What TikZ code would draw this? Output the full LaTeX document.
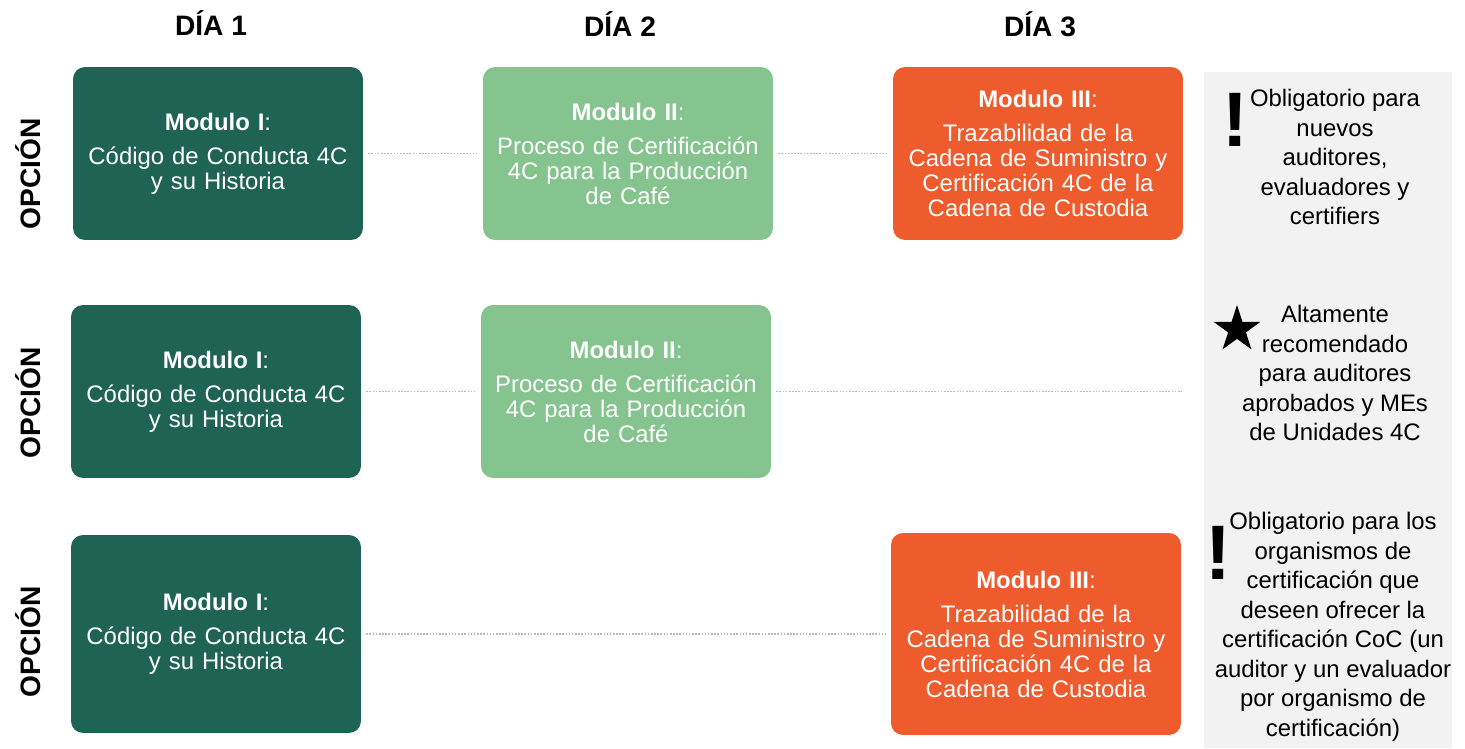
\documentclass[tikz,border=0pt]{standalone}
\usepackage{fontspec}
\setmainfont{Liberation Sans}
\usetikzlibrary{shapes.geometric}

\definecolor{verdeoscuro}{HTML}{1F6354}
\definecolor{verdeclaro}{HTML}{86C48F}
\definecolor{naranja}{HTML}{EE5B2D}
\definecolor{grisfondo}{HTML}{F2F2F2}
\definecolor{grispunto}{HTML}{B8B8B8}

\newcommand{\titulo}[1]{\textbf{#1}:\\[5.2pt]}

\tikzset{
  modulo/.style={rounded corners=0.24cm, minimum width=5.8cm, minimum height=3.46cm,
    text width=5.7cm, align=center, text=white, inner sep=0pt,
    font=\fontsize{13.6}{14.2}\selectfont},
  dia/.style={font=\fontsize{16}{16}\selectfont\bfseries},
  opcion/.style={rotate=90, font=\fontsize{16}{16}\selectfont\bfseries},
  punteado/.style={draw=grispunto, line width=0.9pt, dash pattern=on 0.9pt off 0.9pt,
    shorten <=0.1cm, shorten >=0.1cm},
  nota/.style={align=center, inner sep=0pt, font=\fontsize{13.6}{16.8}\selectfont},
  aviso/.style={inner sep=0pt, font=\fontsize{44}{44}\selectfont}
}

\begin{document}
\begin{tikzpicture}[x=0.02cm, y=-0.02cm]
  \useasboundingbox (0, 0) rectangle (1465, 748);

  % fondo de las notas
  \fill[grisfondo] (1204, 72) rectangle (1452, 748);

  % dias
  \node[dia] (dia1) at (211, 23) {DÍA 1};
  \node[dia] (dia2) at (620, 24) {DÍA 2};
  \node[dia] (dia3) at (1040, 24) {DÍA 3};

  % opciones
  \node[opcion] (op1) at (28, 174) {OPCIÓN};
  \node[opcion] (op2) at (28, 403) {OPCIÓN};
  \node[opcion] (op3) at (28, 642) {OPCIÓN};

  % opcion 1
  \node[modulo, fill=verdeoscuro] (a1) at (218, 153.5)
    {\titulo{Modulo I}Código de Conducta 4C\\y su Historia};
  \node[modulo, fill=verdeclaro] (a2) at (628, 153.5)
    {\titulo{Modulo II}Proceso de Certificación\\4C para la Producción\\de Café};
  \node[modulo, fill=naranja] (a3) at (1038, 153.5)
    {\titulo{Modulo III}Trazabilidad de la\\Cadena de Suministro y\\Certificación 4C de la\\Cadena de Custodia};

  % opcion 2
  \node[modulo, fill=verdeoscuro] (b1) at (216, 391.5)
    {\titulo{Modulo I}Código de Conducta 4C\\y su Historia};
  \node[modulo, fill=verdeclaro] (b2) at (626, 391.5)
    {\titulo{Modulo II}Proceso de Certificación\\4C para la Producción\\de Café};
  \coordinate (bfin) at (1182, 391.5);

  % opcion 3
  \node[modulo, fill=verdeoscuro, minimum height=3.96cm] (c1) at (216, 634)
    {\titulo{Modulo I}Código de Conducta 4C\\y su Historia};
  \node[modulo, fill=naranja, minimum height=4.04cm] (c3) at (1036, 634)
    {\titulo{Modulo III}Trazabilidad de la\\Cadena de Suministro y\\Certificación 4C de la\\Cadena de Custodia};

  % lineas
  \draw[punteado] (a1) -- (a2);
  \draw[punteado] (a2) -- (a3);
  \draw[punteado] (b1) -- (b2);
  \draw[punteado, shorten >=0pt] (b2) -- (bfin);
  \draw[punteado] (c1) -- (c3);

  % notas
  \node[aviso] (av1) at (1235, 120) {\textbf{!}};
  \node[nota] (n1) at (1335, 157)
    {Obligatorio para\\nuevos\\auditores,\\evaluadores y\\certifiers};
  \node[star, star points=5, star point ratio=2.618, fill=black, inner sep=0pt,
    minimum size=0.98cm] (estrella) at (1237, 329.5) {};
  \node[nota] (n2) at (1335, 373)
    {Altamente\\recomendado\\para auditores\\aprobados y MEs\\de Unidades 4C};
  \node[aviso] (av3) at (1218, 553) {\textbf{!}};
  \node[nota] (n3) at (1333, 627)
    {Obligatorio para los\\organismos de\\certificación que\\deseen ofrecer la\\certificación CoC (un\\auditor y un evaluador\\por organismo de\\certificación)};
\end{tikzpicture}
\end{document}
